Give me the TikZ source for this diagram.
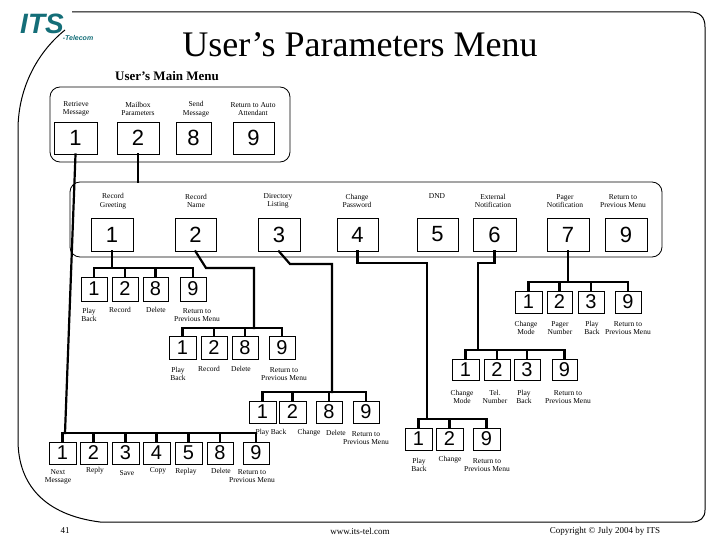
\documentclass[tikz,border=0pt]{standalone}
\usepackage{fontspec}
\setmainfont{Liberation Serif}
\newfontfamily\dsans{Liberation Sans}
\definecolor{itsteal}{RGB}{20,110,120}
\begin{document}
\begin{tikzpicture}[x=1pt,y=-1pt,
  dbox/.style={draw,line width=0.8pt,inner sep=0pt,font=\dsans},
  conn/.style={line width=2.2pt,line cap=rect},
  thin/.style={line width=1pt},
  lab/.style={font=\fontsize{7.5}{8.5}\selectfont,align=center,inner sep=0pt},
  grp/.style={draw,line width=0.8pt,rounded corners=10pt}]
\useasboundingbox (0,0) rectangle (720,540);
\newcommand\dbx[7]{\node[dbox,minimum width={(#4-#2)*1pt},minimum height={(#5-#3)*1pt},font=\dsans\fontsize{#7}{#7}\selectfont] (#1) at ({(#2+#4)/2},{(#3+#5)/2}) {#6};}
\newcommand\lb[4]{\node[lab] (#1) at (#2,#3) {#4};}
% frame
\draw[thin] (72,12) -- (690,12) .. controls (700,12) and (705,17) .. (705,27) -- (705,510) .. controls (705,518) and (700,522) .. (692,522) -- (100,522) .. controls (45,515) and (18,485) .. (18,440) -- (18,130) .. controls (18,85) and (40,50) .. (65,30);
% logo
\node[font=\dsans\bfseries\itshape\fontsize{28}{28}\selectfont,text=itsteal,inner sep=0pt] (logo) at (42,24) {ITS};
\node[font=\dsans\bfseries\itshape\fontsize{7}{7}\selectfont,text=itsteal,inner sep=0pt] (tel) at (78,38) {-Telecom};
\node[font=\fontsize{36}{36}\selectfont,inner sep=0pt] (title) at (360,45) {User’s Parameters Menu};
\node[font=\bfseries\fontsize{13}{13}\selectfont,inner sep=0pt] (umm) at (167,76) {User’s Main Menu};
% main menu
\draw[grp] (50,87) rectangle (290,162);
\lb{mt1}{76}{109}{Retrieve\\Message}
\lb{mt2}{138}{109}{Mailbox\\Parameters}
\lb{mt8}{196}{109}{Send\\Message}
\lb{mt9}{253}{109}{Return to Auto\\Attendant}
\dbx{M1}{54}{122}{97}{154}{1}{22}
\dbx{M2}{117}{122}{159}{154}{2}{22}
\dbx{M8}{176}{122}{211}{154}{8}{22}
\dbx{M9}{233}{122}{274}{154}{9}{22}
% level 2
\draw[grp] (70,182) rectangle (662,257);
\lb{lt1}{113}{201}{Record\\Greeting}
\lb{lt2}{196}{201}{Record\\Name}
\lb{lt3}{278}{201}{Directory\\Listing}
\lb{lt4}{357}{201}{Change\\Password}
\lb{lt5}{437}{196}{DND}
\lb{lt6}{493}{201}{External\\Notification}
\lb{lt7}{565}{201}{Pager\\Notification}
\lb{lt9}{623}{201}{Return to\\Previous Menu}
\dbx{L1}{91}{218}{133}{251}{1}{22}
\dbx{L2}{175}{218}{216}{251}{2}{22}
\dbx{L3}{258}{218}{300}{251}{3}{22}
\dbx{L4}{337}{218}{378}{251}{4}{22}
\dbx{L5}{417}{218}{458}{251}{5}{22}
\dbx{L6}{473}{218}{516}{251}{6}{22}
\dbx{L7}{547}{218}{589}{251}{7}{22}
\dbx{L9}{605}{218}{647}{251}{9}{22}
\draw[conn] (M2.south) -- (138,182);
% group A
\dbx{A1}{81}{277}{107}{301}{1}{20}
\dbx{A2}{112}{277}{138}{301}{2}{20}
\dbx{A8}{143}{277}{168}{301}{8}{20}
\dbx{A9}{180}{277}{206}{301}{9}{20}
\lb{al1}{89}{315}{Play\\Back}
\lb{al2}{120}{310}{Record}
\lb{al8}{156}{310}{Delete}
\lb{al9}{197}{315}{Return to\\Previous Menu}
\draw[conn] (L1.south) -- (112,268);
\draw[conn] (A1.north) -- (94,268) -- (193,268) -- (A9.north);
\draw[conn] (A2.north) -- (125,268) (A8.north) -- (155.5,268);
% group B
\dbx{B1}{169}{336}{196}{359}{1}{20}
\dbx{B2}{201}{336}{227}{359}{2}{20}
\dbx{B8}{232}{336}{258}{359}{8}{20}
\dbx{B9}{269}{336}{295}{359}{9}{20}
\lb{bl1}{178}{374}{Play\\Back}
\lb{bl2}{209}{369}{Record}
\lb{bl8}{241}{369}{Delete}
\lb{bl9}{284}{374}{Return to\\Previous Menu}
\draw[conn] (L2.south) -- (206,268) -- (254,268) -- (254,328);
\draw[conn] (B1.north) -- (182.5,328) -- (282,328) -- (B9.north);
\draw[conn] (B2.north) -- (214,328) (B8.north) -- (245,328);
% group C
\dbx{C1}{249}{401}{276}{423}{1}{20}
\dbx{C2}{279}{401}{306}{423}{2}{20}
\dbx{C8}{316}{401}{342}{423}{8}{20}
\dbx{C9}{353}{401}{379}{423}{9}{20}
\lb{cl1}{271}{433}{Play Back}
\lb{cl2}{309}{433}{Change}
\lb{cl8}{336}{433}{Delete}
\lb{cl9}{366}{438}{Return to\\Previous Menu}
\draw[conn] (L3.south) -- (290,264) -- (332,264) -- (332,392);
\draw[conn] (C1.north) -- (262.5,392) -- (366,392) -- (C9.north);
\draw[conn] (C2.north) -- (292.5,392) (C8.north) -- (329,392);
% group D
\dbx{D1}{405}{428}{432}{450}{1}{20}
\dbx{D2}{436}{428}{463}{450}{2}{20}
\dbx{D9}{473}{428}{500}{450}{9}{20}
\lb{dl1}{419}{465}{Play\\Back}
\lb{dl2}{450}{460}{Change}
\lb{dl9}{487}{465}{Return to\\Previous Menu}
\draw[conn] (L4.south) -- (357.5,263) -- (427,263) -- (427,419);
\draw[conn] (D1.north) -- (418.5,419) -- (486.5,419) -- (D9.north);
\draw[conn] (D2.north) -- (449.5,419);
% group E
\dbx{E1}{452}{359}{479}{380}{1}{20}
\dbx{E2}{484}{359}{510}{380}{2}{20}
\dbx{E3}{514}{359}{540}{380}{3}{20}
\dbx{E9}{552}{359}{577}{380}{9}{20}
\lb{el1}{462}{397}{Change\\Mode}
\lb{el2}{495}{397}{Tel.\\Number}
\lb{el3}{524}{397}{Play\\Back}
\lb{el9}{568}{397}{Return to\\Previous Menu}
\draw[conn] (L6.south) -- (494.5,263) -- (478,263) -- (478,350);
\draw[conn] (E1.north) -- (465.5,350) -- (564.5,350) -- (E9.north);
\draw[conn] (E2.north) -- (497,350) (E3.north) -- (527,350);
% group F
\dbx{F1}{515}{291}{542}{313}{1}{20}
\dbx{F2}{547}{291}{572}{313}{2}{20}
\dbx{F3}{578}{291}{604}{313}{3}{20}
\dbx{F9}{615}{291}{641}{313}{9}{20}
\lb{fl1}{526}{328}{Change\\Mode}
\lb{fl2}{560}{328}{Pager\\Number}
\lb{fl3}{592}{328}{Play\\Back}
\lb{fl9}{628}{328}{Return to\\Previous Menu}
\draw[conn] (L7.south) -- (568,282);
\draw[conn] (F1.north) -- (528.5,282) -- (628,282) -- (F9.north);
\draw[conn] (F2.north) -- (559.5,282) (F3.north) -- (591,282);
% group G (retrieve)
\dbx{G1}{49}{442}{76}{464}{1}{20}
\dbx{G2}{80}{442}{107}{464}{2}{20}
\dbx{G3}{112}{442}{139}{464}{3}{20}
\dbx{G4}{143}{442}{170}{464}{4}{20}
\dbx{G5}{175}{442}{202}{464}{5}{20}
\dbx{G8}{207}{442}{233}{464}{8}{20}
\dbx{G9}{243}{442}{269}{464}{9}{20}
\lb{gl1}{58}{477}{Next\\Message}
\lb{gl2}{95}{471}{Reply}
\lb{gl3}{127}{473}{Save}
\lb{gl4}{158}{471}{Copy}
\lb{gl5}{186}{472}{Replay}
\lb{gl8}{221}{471}{Delete}
\lb{gl9}{252}{476}{Return to\\Previous Menu}
\draw[conn] (M1.south) -- (65,433);
\draw[conn] (65,433) -- (G1.north|-65,433) -- (G9.north|-65,433) -- (G9.north);
\foreach \g in {G1,G2,G3,G4,G5,G8} \draw[conn] (\g.north) -- (\g.north|-65,433);
% footer
\node[font=\fontsize{9}{9}\selectfont] (pg) at (65,531) {41};
\node[font=\fontsize{9}{9}\selectfont] (url) at (360,531) {www.its-tel.com};
\node[font=\fontsize{9}{9}\selectfont] (copy) at (605,531) {Copyright © July 2004 by ITS};
\end{tikzpicture}
\end{document}
